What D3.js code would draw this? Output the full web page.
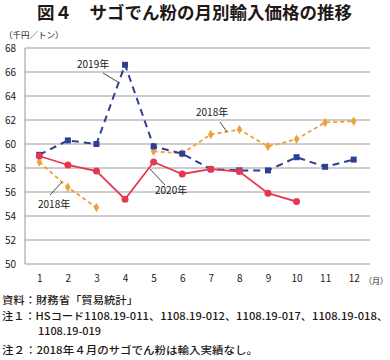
<!DOCTYPE html>
<html><head><meta charset="utf-8">
<script src="https://cdn.jsdelivr.net/npm/d3@7/dist/d3.min.js"></script>
<style>body{margin:0;background:#fff}svg{display:block}text{font-family:"Noto Sans CJK JP","Noto Sans",sans-serif}</style>
</head><body><svg id="c" width="390" height="360"></svg>
<script>
const months = [1,2,3,4,5,6,7,8,9,10,11,12];
const yTicks = [50,52,54,56,58,60,62,64,66,68];
const s2018 = [58.5,56.4,54.7,null,59.4,59.2,60.8,61.2,59.8,60.4,61.8,61.9];
const s2019 = [59.1,60.3,60.0,66.6,59.8,59.2,57.9,57.8,57.8,58.9,58.1,58.7];
const s2020 = [59.0,58.25,57.75,55.4,58.5,57.5,57.9,57.7,55.9,55.2,null,null];
const title = "図４　サゴでん粉の月別輸入価格の推移";
const notes = ["資料：財務省「貿易統計」","注１：HSコード1108.19-011、1108.19-012、1108.19-017、1108.19-018、","1108.19-019","注２：2018年４月のサゴでん粉は輸入実績なし。"];

const svg = d3.select("#c");
const L=25,R=368,T=48,B=264;
const x = d3.scalePoint().domain(months).range([L,R]).padding(0.5);
const y = d3.scaleLinear().domain([50,68]).range([B,T]);

svg.append("text").attr("x",37).attr("y",18.5).attr("font-size",17.5).attr("font-weight","bold").attr("fill","#231815").text(title);
svg.append("text").attr("x",4).attr("y",38).attr("font-size",8.5).attr("fill","#231815").text("（千円／トン）");

const grid = svg.append("g");
grid.selectAll("line").data(yTicks).join("line")
 .attr("x1",L).attr("x2",370).attr("y1",d=>y(d)).attr("y2",d=>y(d))
 .attr("stroke","#9a9a9a").attr("stroke-width",1);
grid.append("line").attr("x1",L).attr("x2",L).attr("y1",T).attr("y2",B).attr("stroke","#9a9a9a");

const yAxis = d3.axisLeft(y).tickValues(yTicks).tickSize(0).tickPadding(9);
svg.append("g").attr("transform",`translate(${L},0)`).call(yAxis)
 .call(g=>g.select(".domain").remove())
 .call(g=>g.selectAll("text").attr("font-size",10).attr("fill","#231815").attr("font-family","Liberation Sans, Arial, sans-serif"));
const xAxis = d3.axisBottom(x).tickSize(0).tickPadding(11);
svg.append("g").attr("transform",`translate(0,${B})`).call(xAxis)
 .call(g=>g.select(".domain").remove())
 .call(g=>g.selectAll("text").attr("font-size",10).attr("fill","#231815").attr("font-family","Liberation Sans, Arial, sans-serif"));
svg.append("text").attr("x",388).attr("y",284).attr("text-anchor","end").attr("font-size",8).attr("fill","#231815").text("（月）");

function series(data,color,dash,width,marker){
  const pts = months.map((m,i)=>({m,v:data[i]}));
  const line = d3.line().defined(d=>d.v!=null).x(d=>x(d.m)).y(d=>y(d.v));
  svg.append("path").datum(pts).attr("d",line).attr("fill","none")
    .attr("stroke",color).attr("stroke-width",width).attr("stroke-dasharray",dash);
  const g = svg.append("g");
  const valid = pts.filter(d=>d.v!=null);
  if(marker==="square"){
    g.selectAll("rect").data(valid).join("rect").attr("x",d=>x(d.m)-3).attr("y",d=>y(d.v)-3)
     .attr("width",6).attr("height",6).attr("fill",color);
  } else if(marker==="circle"){
    g.selectAll("circle").data(valid).join("circle").attr("cx",d=>x(d.m)).attr("cy",d=>y(d.v)).attr("r",3.5).attr("fill",color);
  } else {
    g.selectAll("path").data(valid).join("path").attr("transform",d=>`translate(${x(d.m)},${y(d.v)})`)
     .attr("d",d3.symbol(d3.symbolDiamond,26)).attr("fill",color);
  }
}
series(s2018,"#f0a03a","4,3",1.8,"diamond");
series(s2019,"#2c3f93","7,5",2,"square");
series(s2020,"#e63650","",1.8,"circle");

const labels = [
 {t:"2019年",x:77,y:68,lx1:103,ly1:73,lx2:118,ly2:82},
 {t:"2018年",x:38,y:208,lx1:50,ly1:195,lx2:62,ly2:182},
 {t:"2020年",x:155,y:194,lx1:165,ly1:185,lx2:150,ly2:169},
 {t:"2018年",x:196,y:116,lx1:220,ly1:122,lx2:227,ly2:132}
];
labels.forEach(l=>{
  svg.append("line").attr("x1",l.lx1).attr("y1",l.ly1).attr("x2",l.lx2).attr("y2",l.ly2).attr("stroke","#231815").attr("stroke-width",0.8);
  svg.append("text").attr("x",l.x).attr("y",l.y).attr("font-size",10).attr("fill","#231815").text(l.t);
});

const nx=[2,2,38,2], ny=[304,320,335,354], nw=[136,386,63,256];
notes.forEach((n,i)=>{
  svg.append("text").attr("x",nx[i]).attr("y",ny[i]).attr("font-size",10).attr("font-weight",500)
   .attr("textLength",nw[i]).attr("lengthAdjust","spacingAndGlyphs").attr("fill","#231815").text(n);
});
</script></body></html>
